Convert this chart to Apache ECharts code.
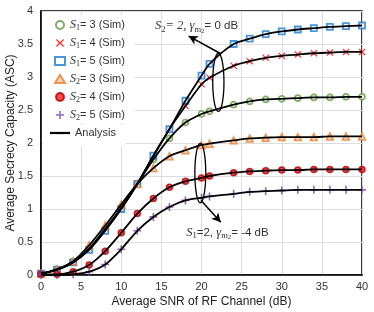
<!DOCTYPE html>
<html><head><meta charset="utf-8">
<script src="https://cdn.jsdelivr.net/npm/echarts@6/dist/echarts.min.js"></script>
<style>html,body{margin:0;padding:0;background:#fff}#c{width:374px;height:312px}</style>
</head><body><div id="c"></div>
<script>
var snr = [0,2,4,6,8,10,12,14,16,18,20,21,24,26,28,30,32,34,36,38,40];
var s1_3 = [0.02,0.08,0.20,0.40,0.70,1.02,1.38,1.75,2.07,2.31,2.44,2.48,2.58,2.63,2.66,2.67,2.68,2.69,2.69,2.70,2.70];
var s1_4 = [0.02,0.08,0.19,0.39,0.68,1.01,1.38,1.80,2.21,2.56,2.89,2.99,3.17,3.24,3.29,3.32,3.34,3.36,3.37,3.38,3.38];
var s1_5 = [0.02,0.08,0.19,0.38,0.67,1.00,1.38,1.81,2.21,2.64,3.02,3.20,3.50,3.58,3.65,3.69,3.72,3.74,3.76,3.77,3.78];
var s2_3 = [0.02,0.09,0.21,0.45,0.75,1.07,1.38,1.62,1.80,1.89,1.97,1.99,2.04,2.07,2.08,2.09,2.09,2.09,2.10,2.10,2.10];
var s2_4 = [0.01,0.01,0.05,0.15,0.36,0.64,0.93,1.16,1.33,1.42,1.47,1.50,1.55,1.57,1.58,1.59,1.59,1.60,1.60,1.60,1.60];
var s2_5 = [0.00,0.00,0.01,0.05,0.16,0.39,0.67,0.88,1.03,1.13,1.17,1.19,1.23,1.26,1.27,1.28,1.29,1.29,1.29,1.29,1.29];
var xTicks = [0,5,10,15,20,25,30,35,40];
var yTicks = [0,0.5,1,1.5,2,2.5,3,3.5,4];
var names = ['S1=3','S1=4','S1=5','S2=3','S2=4','S2=5'];
var legendRich = {
  'S1=3':'{s|S}{sub|1}{n|= 3 (Sim)}', 'S1=4':'{s|S}{sub|1}{n|= 4 (Sim)}', 'S1=5':'{s|S}{sub|1}{n|= 5 (Sim)}',
  'S2=3':'{s|S}{sub|2}{n|= 3 (Sim)}', 'S2=4':'{s|S}{sub|2}{n|= 4 (Sim)}', 'S2=5':'{s|S}{sub|2}{n|= 5 (Sim)}',
  'Analysis':'{n|Analysis}'
};

function pairs(v){ return snr.map(function(x,i){return [x,v[i]];}); }
var sets = [s1_3,s1_4,s1_5,s2_3,s2_4,s2_5];
var XPATH = 'path://M1,0 L5,3.6 L9,0 L10,1.2 L6.4,5 L10,8.8 L9,10 L5,6.4 L1,10 L0,8.8 L3.6,5 L0,1.2 Z';
var PLUS = 'path://M4,0 L6,0 L6,4 L10,4 L10,6 L6,6 L6,10 L4,10 L4,6 L0,6 L0,4 L4,4 Z';
var styles = [
  {symbol:'circle', size:6, itemStyle:{color:'#ffffff', borderColor:'#5E9A3C', borderWidth:1.8}},
  {symbol:XPATH, size:7, itemStyle:{color:'#FF0000'}},
  {symbol:'rect', size:6, itemStyle:{color:'#ffffff', borderColor:'#1C7CD5', borderWidth:1.8}},
  {symbol:'triangle', size:7, itemStyle:{color:'#F9C9A2', borderColor:'#ED7D31', borderWidth:1.5}},
  {symbol:'circle', size:6, itemStyle:{color:'#FF1A1A', borderColor:'#B00000', borderWidth:1.5}},
  {symbol:PLUS, size:8, itemStyle:{color:'#7A3FB0'}}
];

var series = [];
sets.forEach(function(v,i){
  series.push({type:'scatter', name:names[i], data:pairs(v), symbol:styles[i].symbol,
    symbolSize:styles[i].size, itemStyle:styles[i].itemStyle, z:2, silent:true});
});
sets.forEach(function(v,i){
  series.push({type:'line', name:'Analysis', data:pairs(v), smooth:0.25, symbol:'none',
    lineStyle:{color:'#000', width:1.8}, itemStyle:{color:'#000'}, z:3, silent:true});
});
series.push({type:'line', name:'arrows', data:[], silent:true, z:4,
  markLine:{silent:true, symbol:['none','arrow'], symbolSize:[7,9], label:{show:false},
    lineStyle:{color:'#000', width:1.5, type:'solid'},
    data:[[{coord:[22.3,3.36]},{coord:[18.4,3.62]}],[{coord:[19.95,1.13]},{coord:[22.4,0.80]}]]}});

var chart = echarts.init(document.getElementById('c'));
var axisLabelFont = {fontFamily:'Liberation Sans', fontSize:11, color:'#333'};
var richLegend = {
  s:{fontFamily:'Liberation Serif', fontStyle:'italic', fontSize:12, color:'#333', verticalAlign:'middle', lineHeight:14},
  sub:{fontFamily:'Liberation Serif', fontSize:8, color:'#333', verticalAlign:'bottom', lineHeight:8},
  n:{fontFamily:'Liberation Sans', fontSize:11, color:'#333', verticalAlign:'middle', lineHeight:14}
};
chart.setOption({
  animation:false,
  backgroundColor:'#fff',
  grid:{left:41, right:12, top:11, bottom:37, containLabel:false, outerBoundsMode:'none',
    show:true, borderColor:'#000', borderWidth:1.5},
  xAxis:{type:'value', min:0, max:40, interval:5,
    name:'Average SNR of RF Channel (dB)', nameLocation:'middle', nameGap:21, nameMoveOverlap:false,
    nameTextStyle:{fontFamily:'Liberation Sans', fontSize:12, color:'#222'},
    axisLine:{show:true, lineStyle:{color:'#000', width:1.5}}, axisTick:{show:false},
    axisLabel:Object.assign({margin:6, formatter:function(v){return xTicks.indexOf(v)>=0?String(v):'';}}, axisLabelFont),
    splitLine:{show:true, lineStyle:{color:'#DDDDDD', width:1}}},
  yAxis:{type:'value', min:0, max:4, interval:0.5,
    name:'Average Secrecy Capacity (ASC)', nameLocation:'middle', nameGap:24, nameMoveOverlap:false,
    nameTextStyle:{fontFamily:'Liberation Sans', fontSize:12, color:'#222'},
    axisLine:{show:true, lineStyle:{color:'#000', width:1.5}}, axisTick:{show:false},
    axisLabel:Object.assign({margin:8, formatter:function(v){return yTicks.indexOf(v)>=0?String(v):'';}}, axisLabelFont),
    splitLine:{show:true, lineStyle:{color:'#DDDDDD', width:1}}},
  legend:[
    {orient:'vertical', left:43, top:15, padding:[3,10,1,11], backgroundColor:'#fff',
      itemWidth:10, itemHeight:8, itemGap:4,
      data:names.map(function(n){return {name:n};}),
      formatter:function(n){return legendRich[n];},
      textStyle:{lineHeight:14, rich:richLegend}},
    {orient:'vertical', left:43, top:125, padding:[1,10,6,7], backgroundColor:'#fff',
      itemWidth:20, itemHeight:8, itemGap:4,
      data:[{name:'Analysis', icon:'path://M0,0 L20,0 L20,2.2 L0,2.2 Z', itemStyle:{color:'#000'}}],
      formatter:function(n){return legendRich[n];},
      textStyle:{lineHeight:14, rich:richLegend}}
  ],
  series:series
});

function px(p){ return chart.convertToPixel({gridIndex:0}, p); }
function ellipse(cx, cy, rxData, ryData){
  var c = px([cx,cy]), e = px([cx+rxData, cy+ryData]);
  return {type:'ellipse', shape:{cx:c[0], cy:c[1], rx:Math.abs(e[0]-c[0]), ry:Math.abs(e[1]-c[1])},
    style:{fill:'none', stroke:'#000', lineWidth:1.3}, z:100, silent:true};
}
var annRich = {
  s:{fontFamily:'Liberation Serif', fontStyle:'italic', fontSize:12.5, fill:'#333', verticalAlign:'middle', lineHeight:16},
  sub:{fontFamily:'Liberation Serif', fontSize:8.5, fill:'#333', verticalAlign:'bottom', lineHeight:9},
  ss:{fontFamily:'Liberation Serif', fontSize:7, fill:'#333', verticalAlign:'bottom', lineHeight:6},
  n:{fontFamily:'Liberation Sans', fontSize:11.5, fill:'#333', verticalAlign:'middle', lineHeight:16}
};
function label(x, y, text){
  var p = px([x,y]);
  return {type:'text', x:p[0], y:p[1], z:100, silent:true,
    style:{text:text, rich:annRich, verticalAlign:'middle', align:'left'}};
}
chart.setOption({graphic:[
  ellipse(22.1, 2.92, 0.7, 0.44),
  ellipse(19.85, 1.545, 0.68, 0.45),
  label(14.2, 3.77, '{s|S}{sub|2}{s|= 2, γ}{sub|m}{ss|2}{n|= 0 dB}'),
  label(18.1, 0.64, '{s|S}{sub|1}{n|=2, }{s|γ}{sub|m}{ss|2}{n|= -4 dB}')
]});
</script></body></html>
